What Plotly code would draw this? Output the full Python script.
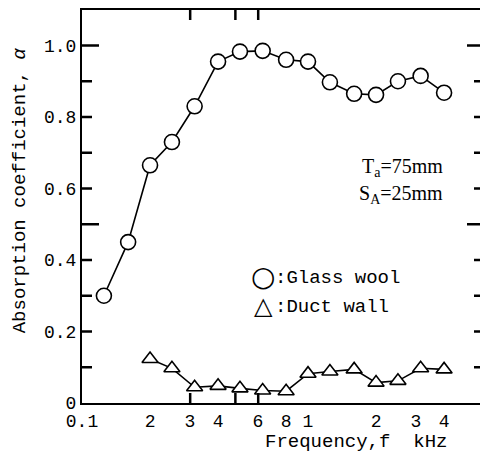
import math
import plotly.graph_objects as go

# Data (frequency in kHz, absorption coefficient)
freq_glass = [0.125, 0.16, 0.2, 0.25, 0.315, 0.4, 0.5, 0.63, 0.8, 1.0, 1.25, 1.6, 2.0, 2.5, 3.15, 4.0]
alpha_glass = [0.30, 0.45, 0.665, 0.73, 0.83, 0.955, 0.983, 0.985, 0.96, 0.955, 0.897, 0.865, 0.862, 0.90, 0.915, 0.868]
freq_duct = [0.2, 0.25, 0.315, 0.4, 0.5, 0.63, 0.8, 1.0, 1.25, 1.6, 2.0, 2.5, 3.15, 4.0]
alpha_duct = [0.123, 0.097, 0.044, 0.048, 0.041, 0.035, 0.033, 0.082, 0.088, 0.094, 0.057, 0.062, 0.097, 0.094]

x_tickvals = [0.1, 0.2, 0.3, 0.4, 0.6, 0.8, 1, 2, 3, 4]
x_ticktext = ["0.1", "2", "3", "4", "6", "8", "1", "2", "3", "4"]
x_major = [1]
y_tickvals = [0, 0.1, 0.2, 0.3, 0.4, 0.5, 0.6, 0.7, 0.8, 0.9, 1.0]
y_ticktext = ["0", " ", "0.2", " ", "0.4", " ", "0.6", " ", "0.8", " ", "1.0"]
y_major = [0.5, 1.0]

X_RANGE = [-1, 0.761]
Y_RANGE = [0, 1.0993]

MONO = "Liberation Mono"
SERIF = "Liberation Serif"

fig = go.Figure()
fig.add_trace(go.Scatter(
    x=freq_glass, y=alpha_glass, mode="lines+markers",
    line=dict(color="black", width=1.6),
    marker=dict(symbol="circle", size=15, color="white", line=dict(color="black", width=1.6)),
    showlegend=False))
fig.add_trace(go.Scatter(
    x=freq_duct, y=alpha_duct, mode="lines+markers",
    line=dict(color="black", width=1.6),
    marker=dict(symbol="triangle-up", size=14, color="white", line=dict(color="black", width=1.6)),
    showlegend=False))

fig.update_layout(
    width=480, height=455,
    margin=dict(l=82, r=0, t=10, b=52),
    paper_bgcolor="white", plot_bgcolor="white",
    font=dict(family=MONO, size=18, color="black"),
    xaxis=dict(
        type="log", range=X_RANGE,
        showline=True, linewidth=2, linecolor="black", mirror=True,
        ticks="", tickvals=x_tickvals, ticktext=x_ticktext,
        showgrid=False, zeroline=False,
        tickfont=dict(family=MONO, size=18),
    ),
    yaxis=dict(
        range=Y_RANGE,
        showline=True, linewidth=2, linecolor="black",
        ticks="", tickvals=y_tickvals, ticktext=y_ticktext,
        showgrid=False, zeroline=False,
        tickfont=dict(family=MONO, size=18),
    ),
)

# tick marks (inside), placed at the tick values
tick_line = dict(color="black", width=2.5)
shapes = []
for v in x_tickvals[1:]:
    L = 18 if v in x_major else 10
    lx = math.log10(v)
    shapes.append(dict(type="line", xref="x", yref="paper", ysizemode="pixel", yanchor=0,
                       x0=lx, x1=lx, y0=0, y1=L, line=tick_line))
    shapes.append(dict(type="line", xref="x", yref="paper", ysizemode="pixel", yanchor=1,
                       x0=lx, x1=lx, y0=0, y1=-L, line=tick_line))
for v in y_tickvals[1:]:
    L_left = 17 if v in y_major else 10
    L_right = 13 if v in y_major else 6
    shapes.append(dict(type="line", xref="paper", yref="y", xsizemode="pixel", xanchor=0,
                       x0=0, x1=L_left, y0=v, y1=v, line=tick_line))
    shapes.append(dict(type="line", xref="paper", yref="y", xsizemode="pixel", xanchor=1,
                       x0=0, x1=-L_right, y0=v, y1=v, line=tick_line))
fig.update_layout(shapes=shapes)

ann = [
    dict(text="T<sub>a</sub>=75mm", x=0.912, y=0.598, xanchor="right", yanchor="middle",
         font=dict(family=SERIF, size=20)),
    dict(text="S<sub>A</sub>=25mm", x=0.912, y=0.53, xanchor="right", yanchor="middle",
         font=dict(family=SERIF, size=20)),
    dict(text="○", x=0.456, y=0.322, xanchor="center", yanchor="middle",
         font=dict(family="DejaVu Sans", size=28)),
    dict(text=":Glass wool", x=0.48, y=0.319, xanchor="left", yanchor="middle",
         font=dict(family=MONO, size=19)),
    dict(text="△", x=0.456, y=0.247, xanchor="center", yanchor="middle",
         font=dict(family="DejaVu Sans", size=24)),
    dict(text=":Duct wall", x=0.48, y=0.245, xanchor="left", yanchor="middle",
         font=dict(family=MONO, size=19)),
    dict(text="Absorption coefficient, <i>α</i>", x=-0.156, y=0.541, textangle=-90,
         xanchor="center", yanchor="middle", font=dict(family=MONO, size=19)),
    dict(text="Frequency,f  kHz", x=0.688, y=-0.0985, xanchor="center", yanchor="middle",
         font=dict(family=MONO, size=19)),
]
for a in ann:
    a.update(xref="paper", yref="paper", showarrow=False)
fig.update_layout(annotations=ann)

fig.write_html("out.html")
